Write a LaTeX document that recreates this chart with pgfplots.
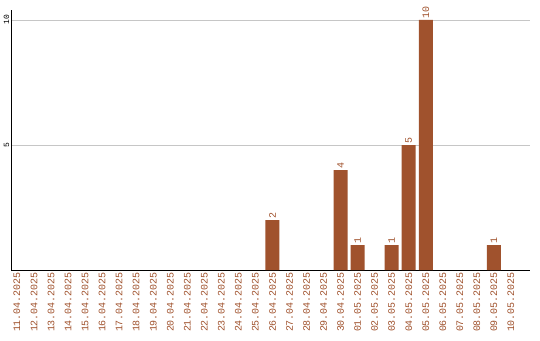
\documentclass[border=0pt]{standalone}
\usepackage{pgfplots}
\pgfplotsset{compat=1.18}
\usepackage{fontspec}
\setmainfont{Liberation Mono}
\definecolor{bar}{HTML}{A0522D}
\begin{document}
\begin{tikzpicture}[x=1bp,y=1bp]
\useasboundingbox (0,0) rectangle (540,340);
\begin{axis}[
  at={(11bp,70bp)}, anchor=south west,
  scale only axis, width=519bp, height=260bp,
  xmin=-0.35, xmax=30.12, ymin=0, ymax=10.4,
  axis x line*=bottom, axis y line*=left,
  axis line style={black, line width=1bp, -},
  ybar, bar width=14bp,
  ytick={5,10}, ymajorgrids, grid style={gray!45, line width=0.8bp},
  major tick length=0pt,
  yticklabel style={rotate=90, font=\fontsize{8}{9}\selectfont, anchor=south, inner sep=1.5bp},
  xtick={0,...,29},
  xticklabels={11.04.2025,12.04.2025,13.04.2025,14.04.2025,15.04.2025,16.04.2025,17.04.2025,18.04.2025,19.04.2025,20.04.2025,21.04.2025,22.04.2025,23.04.2025,24.04.2025,25.04.2025,26.04.2025,27.04.2025,28.04.2025,29.04.2025,30.04.2025,01.05.2025,02.05.2025,03.05.2025,04.05.2025,05.05.2025,06.05.2025,07.05.2025,08.05.2025,09.05.2025,10.05.2025},
  xticklabel style={rotate=90, anchor=east, font=\fontsize{10}{11}\selectfont, text=bar, inner sep=2bp},
  nodes near coords,
  nodes near coords style={rotate=90, anchor=west, font=\fontsize{10}{11}\selectfont, text=bar, inner sep=1.5bp},
  /pgf/number format/assume math mode=true,
]
\addplot[fill=bar, draw=none] coordinates {(15,2) (19,4) (20,1) (22,1) (23,5) (24,10) (28,1)};
\end{axis}
\end{tikzpicture}
\end{document}
